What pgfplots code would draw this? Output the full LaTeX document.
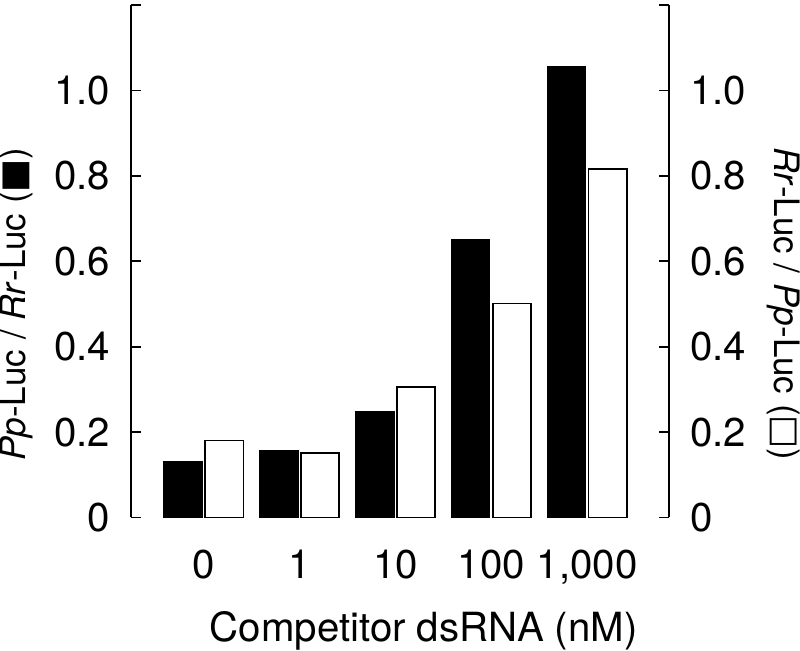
\documentclass[border=0pt]{standalone}
\usepackage{fontspec}
\setmainfont{TeX Gyre Heros}
\newfontfamily\dejavu{DejaVu Sans}
\usepackage{pgfplots}
\pgfplotsset{compat=1.18}
\begin{document}
\begin{tikzpicture}
\pgfplotsset{
  common/.style={
    scale only axis,
    width=261pt, height=248.5pt,
    xmin=-0.758, xmax=4.855,
    ymin=0, ymax=1.2,
    ytick={0,0.2,0.4,0.6,0.8,1.0,1.2},
    yticklabels={0,0.2,0.4,0.6,0.8,1.0,{}},
    tick align=inside,
    major tick length=5pt,
    every tick/.style={line width=0.9pt, black},
    axis line style={line width=0.9pt},
    tick label style={font=\fontsize{19.5}{22}\selectfont, inner sep=0pt},
    xtick={0,1,2,3,4},
    xtick style={draw=none},
    x axis line style={draw=none},
    axis x line*=bottom,
    ybar, bar width=0.398,
    clip=false,
  }
}
\begin{axis}[common,
  axis y line*=left,
  xticklabels={0,1,10,100,{1,000}},
  x tick label style={yshift=-10.5pt},
  y tick label style={xshift=-10pt},
  xlabel={Competitor dsRNA (nM)},
  every axis x label/.style={at={(ticklabel cs:0.544,13pt)}, anchor=north, inner sep=0pt, font=\fontsize{19.5}{22}\selectfont},
  ylabel={\textit{Pp}-Luc / \textit{Rr}-Luc ({\dejavu ■})},
  every axis y label/.style={at={(ticklabel cs:0.4167,10pt)}, rotate=90, anchor=south, inner sep=0pt, font=\fontsize{17}{20}\selectfont},
]
\addplot[fill=black, draw=black, line width=0.75pt, bar shift=-0.215] coordinates {
  (0,0.130) (1,0.157) (2,0.248) (3,0.650) (4,1.055)};
\end{axis}
\begin{axis}[common,
  axis y line*=right,
  xticklabels={},
  y tick label style={xshift=10pt},
  ylabel={\textit{Rr}-Luc / \textit{Pp}-Luc ({\dejavu □})},
  every axis y label/.style={at={(ticklabel cs:0.4167,10pt)}, rotate=-90, anchor=south, inner sep=0pt, font=\fontsize{17}{20}\selectfont},
]
\addplot[fill=white, draw=black, line width=0.75pt, bar shift=0.215] coordinates {
  (0,0.180) (1,0.151) (2,0.305) (3,0.501) (4,0.816)};
\end{axis}
\path ([yshift=2.5pt]current axis.north) ([yshift=-2pt]current axis.south);
\end{tikzpicture}
\end{document}
